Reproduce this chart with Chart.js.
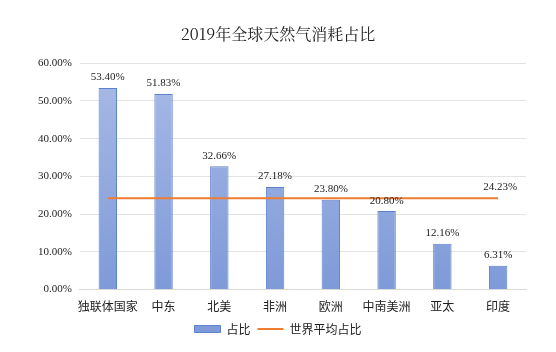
<!DOCTYPE html>
<html>
<head>
<meta charset="utf-8">
<script src="https://cdn.jsdelivr.net/npm/chart.js@4.4.1/dist/chart.umd.min.js"></script>
<style>
  html, body { margin: 0; padding: 0; background: #fff; }
  #wrap { width: 556px; height: 352px; }
</style>
</head>
<body>
<div id="wrap"><canvas id="chart" width="556" height="352"></canvas></div>
<script>
// data
var regions = ['独联体国家', '中东', '北美', '非洲', '欧洲', '中南美洲', '亚太', '印度'];
var shares = [53.40, 51.83, 32.66, 27.18, 23.80, 20.80, 12.16, 6.31];
var worldAvg = [24.23, 24.23, 24.23, 24.23, 24.23, 24.23, 24.23, 24.23];
var yTicks = [0, 10, 20, 30, 40, 50, 60];

var serif = '"Liberation Serif", "Times New Roman", serif';
var cjk = '"Noto Sans CJK SC", "Liberation Serif", serif';

function barFill(context){
    var chart = context.chart;
    var area = chart.chartArea;
    if (!area) return '#8fa8dc';
    var g = chart.ctx.createLinearGradient(0, area.top, 0, area.bottom);
    g.addColorStop(0, '#a9bbe6');
    g.addColorStop(1, '#7e9ad8');
    return g;
}

// value labels above bars, and one label at the end of the average line
var valueLabels = {
    id: 'valueLabels',
    afterDatasetsDraw: function(chart){
        var ctx = chart.ctx;
        ctx.save();
        ctx.font = '11px ' + serif;
        ctx.fillStyle = '#222';
        ctx.textAlign = 'center';
        ctx.textBaseline = 'bottom';
        var bars = chart.getDatasetMeta(0).data;
        for (var i = 0; i < bars.length; i++) {
            ctx.fillText(shares[i].toFixed(2) + '%', bars[i].x, bars[i].y - 5);
        }
        var pts = chart.getDatasetMeta(1).data;
        var last = pts[pts.length - 1];
        ctx.fillText(worldAvg[worldAvg.length - 1].toFixed(2) + '%', last.x + 2, last.y - 6);
        ctx.restore();
    }
};

var ctx = document.getElementById('chart');
new Chart(ctx, {
    type: 'bar',
    data: {
        labels: regions,
        datasets: [{
            label: '占比',
            data: shares,
            backgroundColor: barFill,
            borderColor: '#5d80cf',
            borderWidth: 1,
            barPercentage: 0.66,
            categoryPercentage: 0.5,
            pointStyle: 'rect',
            order: 2
        }, {
            type: 'line',
            label: '世界平均占比',
            data: worldAvg,
            borderColor: '#ed7d31',
            backgroundColor: '#ed7d31',
            borderWidth: 2,
            pointRadius: 0,
            pointStyle: 'line',
            fill: false,
            order: 1
        }]
    },
    options: {
        responsive: false,
        animation: false,
        layout: { padding: { left: 30, right: 30, top: 4, bottom: 7 } },
        scales: {
            x: {
                grid: { display: false },
                border: { color: '#d9d9d9' },
                ticks: {
                    color: '#222',
                    font: { family: cjk, size: 12 },
                    padding: 2,
                    maxRotation: 0,
                    autoSkip: false
                }
            },
            y: {
                min: 0,
                max: 60,
                afterBuildTicks: function(axis){
                    axis.ticks = yTicks.map(function(v){ return { value: v }; });
                },
                grid: { color: '#e3e3e3', drawTicks: false },
                border: { display: false },
                ticks: {
                    color: '#222',
                    font: { family: serif, size: 11 },
                    padding: 8,
                    callback: function(v){ return v.toFixed(2) + '%'; }
                }
            }
        },
        plugins: {
            title: {
                display: true,
                text: '2019年全球天然气消耗占比',
                color: '#222',
                font: { family: '"Noto Serif CJK SC", ' + cjk, size: 16, weight: 'normal' },
                padding: { top: 20, bottom: 20 }
            },
            legend: {
                position: 'bottom',
                labels: {
                    usePointStyle: true,
                    pointStyleWidth: 26,
                    boxHeight: 7,
                    color: '#222',
                    font: { family: cjk, size: 12 },
                    padding: 7,
                    sort: function(a, b){ return a.datasetIndex - b.datasetIndex; }
                }
            },
            tooltip: { enabled: false }
        }
    },
    plugins: [valueLabels]
});
</script>
</body>
</html>
